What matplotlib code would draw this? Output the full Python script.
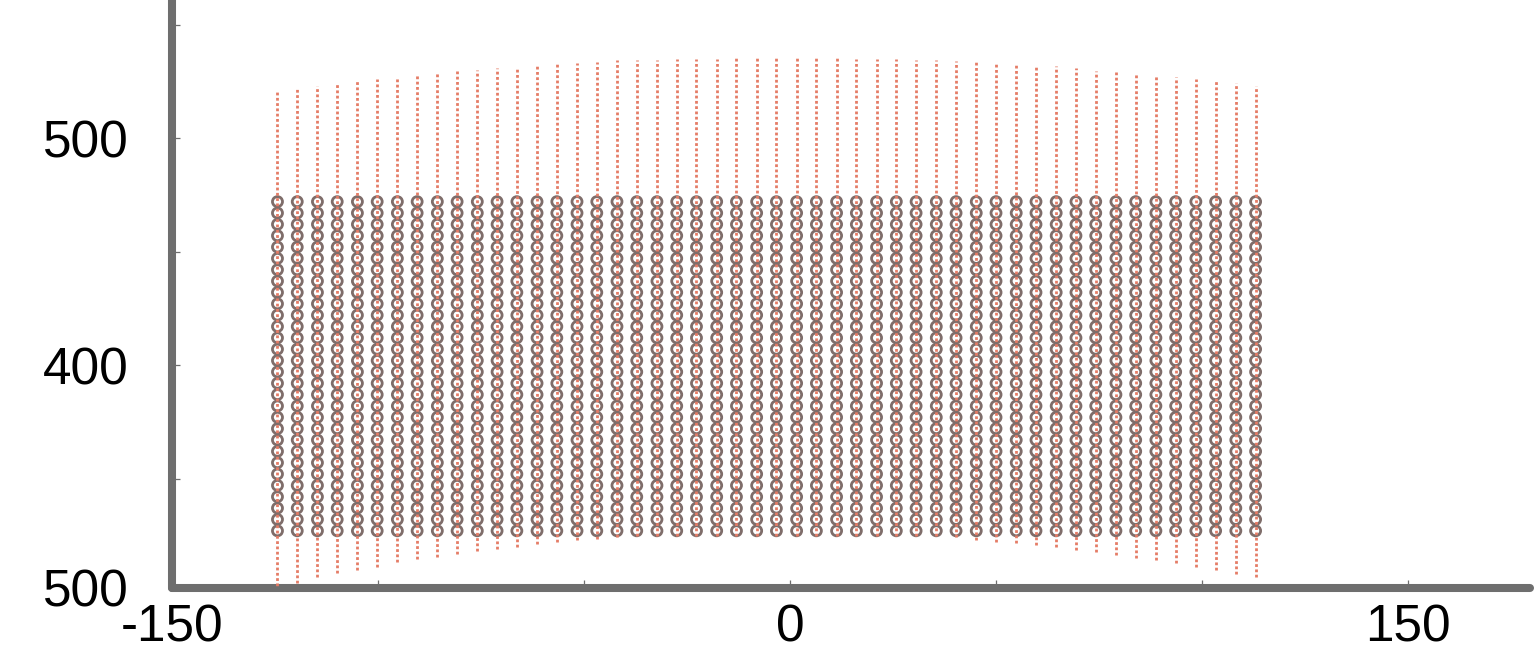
import matplotlib
matplotlib.use("Agg")
import matplotlib.pyplot as plt
import numpy as np

# column positions (x)
x_pos = [-124.4, -119.6, -114.7, -109.9, -105.0, -100.2, -95.3, -90.5, -85.6, -80.8,
         -75.9, -71.1, -66.3, -61.4, -56.6, -51.7, -46.9, -42.0, -37.2, -32.3,
         -27.5, -22.7, -17.8, -13.0, -8.1, -3.3, 1.6, 6.4, 11.3, 16.1,
         21.0, 25.8, 30.6, 35.5, 40.3, 45.2, 50.0, 54.9, 59.7, 64.6,
         69.4, 74.2, 79.1, 83.9, 88.8, 93.6, 98.5, 103.3, 108.2, 113.0]

# upper end of each dotted line
line_top = [521.1, 522.2, 523.0, 523.9, 525.1, 526.0, 527.0, 527.8, 528.6, 529.4,
            529.8, 530.7, 531.2, 532.0, 532.6, 533.2, 533.6, 534.2, 534.2, 534.5,
            534.7, 534.9, 534.9, 535.2, 535.6, 535.6, 535.6, 535.2, 535.1, 534.9,
            534.9, 534.7, 534.5, 534.4, 534.1, 533.6, 533.2, 532.6, 532.2, 531.7,
            530.7, 529.6, 529.2, 528.5, 527.8, 526.7, 525.9, 525.1, 524.1, 523.0]

# lower end of each dotted line
line_bottom = [300.5, 304.0, 306.7, 308.4, 309.7, 311.1, 313.2, 314.5, 315.4, 316.7,
               318.1, 318.9, 319.9, 321.1, 322.0, 322.9, 323.3, 324.4, 324.5, 324.6,
               324.6, 324.6, 324.6, 324.6, 324.6, 324.6, 324.6, 324.6, 324.6, 324.6,
               324.6, 324.6, 324.6, 324.5, 324.4, 322.9, 322.2, 321.5, 320.7, 319.7,
               318.5, 317.8, 316.3, 314.8, 314.1, 312.6, 311.1, 309.7, 307.9, 306.5]

# rows of circles
row_levels = [327, 332, 337, 342, 347, 352, 357, 362, 367, 372,
              377, 382, 387, 392, 397, 402, 407, 412, 417, 422,
              427, 432, 437, 442, 447, 452, 457, 462, 467, 472]

y_ticks = [302, 400, 500]
y_labels = ["500", "400", "500"]
x_ticks = [-150, 0, 150]
x_labels = ["-150", "0", "150"]

plt.rcParams['font.family'] = ['Liberation Sans', 'DejaVu Sans']

W, H = 1534, 671
fig = plt.figure(figsize=(W / 100, H / 100), dpi=100)
left, bottom = 172 / W, (H - 588) / H
ax = fig.add_axes([left, bottom, 1530 / W - left, 1 - bottom])

gx, gy = np.meshgrid(x_pos, row_levels)
ax.scatter(gx.ravel(), gy.ravel(), s=52, facecolors='none', edgecolors='#7f6d6a',
           linewidths=2.0, zorder=2)
ax.vlines(x_pos, line_bottom, line_top, colors='#e57c66', linewidth=2.0,
          linestyles=(0, (1, 0.9)), zorder=3)

ax.set_xlim(-150, 179.6)
ax.set_ylim(301.8, 301.8 + 588 / 2.27)

for side in ['top', 'right']:
    ax.spines[side].set_visible(False)
for side in ['left', 'bottom']:
    ax.spines[side].set_color('#6e6e6e')
    ax.spines[side].set_linewidth(5.8)
    ax.spines[side].set_capstyle('round')

ax.set_xticks(x_ticks, labels=x_labels)
ax.set_xticks([-100, -50, 50, 100], minor=True)
ax.set_yticks(y_ticks, labels=y_labels)
ax.set_yticks([350, 450, 550], minor=True)
ax.tick_params(which='both', direction='in', length=5.5, width=0.9, color='#6e6e6e',
               labelsize=37, labelcolor='black')
ax.tick_params(axis='x', which='major', pad=11)
ax.tick_params(axis='y', which='major', pad=31)

fig.savefig("out.png", dpi=100)
